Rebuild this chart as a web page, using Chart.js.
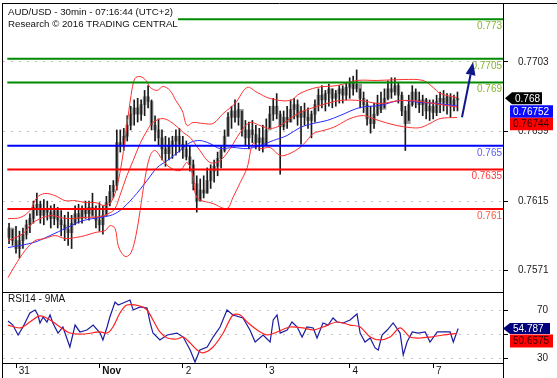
<!DOCTYPE html>
<html><head><meta charset="utf-8">
<script src="https://cdn.jsdelivr.net/npm/chart.js@4.4.1/dist/chart.umd.min.js"></script>
<style>html,body{margin:0;padding:0;background:#fff;overflow:hidden}canvas{display:block}</style>
</head><body>
<canvas id="c" width="557" height="378"></canvas>
<script>
// ---------- texts ----------
const title1 = 'AUD/USD - 30min - 07:16:44 (UTC+2)';
const title2 = 'Research \u00A9 2016 TRADING CENTRAL';
const rsiTitle = 'RSI14 - 9MA';

// ---------- time axis (hours since 31 Oct 00:00, weekend skipped) ----------
const firstHour = -2;
const dayTicks = [0, 24, 48, 72, 96, 120];
const dayLabels = ['31', 'Nov', '2', '3', '4', '7'];

// ---------- hourly bars, price x 10000 ----------
const opens = [7592,7598,7590,7585,7590,7594,7600,7604,7611,7613,7606,7610,7608,7604,7609,7603,7600,7597,7595,7601,7607,7604,7610,7607,7611,7605,7603,7600,7606,7614,7621,7625,7652,7650,7656,7663,7670,7674,7670,7676,7681,7678,7663,7660,7655,7648,7645,7650,7653,7656,7651,7648,7643,7638,7626,7615,7622,7620,7628,7634,7637,7642,7647,7656,7668,7672,7668,7673,7660,7655,7660,7657,7652,7655,7650,7660,7670,7675,7670,7662,7668,7665,7673,7676,7668,7672,7668,7666,7670,7676,7682,7679,7683,7686,7680,7683,7686,7682,7687,7690,7686,7689,7680,7676,7667,7664,7670,7677,7673,7680,7686,7684,7688,7682,7672,7664,7676,7684,7679,7676,7679,7672,7675,7671,7678,7680,7677,7681,7676,7679];
const highs = [7601,7597,7599,7596,7598,7603,7607,7615,7620,7615,7616,7615,7612,7613,7611,7609,7606,7608,7606,7612,7613,7612,7615,7615,7620,7612,7614,7612,7618,7625,7628,7660,7660,7661,7669,7675,7679,7680,7679,7685,7688,7679,7669,7667,7660,7656,7655,7656,7660,7661,7656,7653,7650,7641,7631,7629,7631,7636,7638,7641,7646,7650,7660,7671,7675,7679,7677,7672,7666,7665,7666,7663,7661,7663,7667,7675,7680,7683,7672,7672,7675,7679,7680,7679,7675,7677,7674,7672,7679,7686,7688,7685,7689,7686,7685,7688,7688,7690,7693,7694,7698,7686,7684,7679,7675,7677,7682,7684,7686,7691,7693,7693,7690,7684,7675,7682,7688,7686,7684,7682,7680,7679,7679,7682,7684,7685,7683,7683,7682,7684];
const lows = [7588,7587,7582,7579,7585,7591,7595,7601,7606,7601,7600,7603,7598,7600,7598,7593,7590,7587,7585,7600,7601,7601,7604,7603,7606,7598,7596,7594,7606,7612,7617,7622,7646,7647,7653,7660,7663,7665,7666,7669,7674,7660,7653,7650,7641,7637,7641,7642,7644,7646,7642,7641,7634,7622,7608,7615,7617,7620,7623,7627,7631,7636,7646,7656,7661,7665,7663,7656,7650,7648,7652,7648,7647,7646,7650,7661,7666,7667,7632,7660,7661,7665,7667,7663,7651,7663,7661,7655,7665,7672,7674,7672,7675,7674,7675,7677,7677,7679,7680,7682,7684,7674,7671,7663,7658,7661,7669,7671,7674,7679,7680,7682,7677,7669,7647,7666,7675,7674,7671,7669,7667,7666,7667,7669,7671,7672,7670,7668,7672,7672];
const closes = [7598,7590,7585,7590,7594,7600,7604,7611,7613,7606,7610,7608,7604,7609,7603,7600,7597,7595,7601,7607,7604,7610,7607,7611,7605,7603,7600,7606,7614,7621,7625,7652,7650,7656,7663,7670,7674,7670,7676,7681,7678,7663,7660,7655,7648,7645,7650,7653,7656,7651,7648,7643,7638,7626,7615,7622,7620,7628,7634,7637,7642,7647,7656,7668,7672,7668,7673,7660,7655,7660,7657,7652,7655,7650,7660,7670,7675,7670,7662,7668,7665,7673,7676,7668,7672,7668,7666,7670,7676,7682,7679,7683,7686,7680,7683,7686,7682,7687,7690,7686,7689,7680,7676,7667,7664,7670,7677,7673,7680,7686,7684,7688,7682,7672,7664,7676,7684,7679,7676,7679,7672,7675,7671,7678,7680,7677,7681,7676,7679,7680];

// ---------- indicators: [hour, price x 10000] ----------
const bbUpper = [[-2.3,7603.9],[1.2,7604.6],[4,7609],[6,7617.2],[8.3,7619.8],[11.2,7618.5],[14.1,7615.3],[17,7615.3],[19.9,7614.1],[22.7,7614.1],[25.6,7612.2],[27.6,7615.3],[29.1,7624.8],[30.5,7640.6],[31.9,7662.8],[33.1,7681.8],[34.2,7692.5],[35.7,7693.8],[37.4,7691.3],[38.6,7686.9],[40.6,7685],[42.3,7687.5],[44.3,7685],[46,7678.6],[47.8,7672.3],[49.2,7662.8],[50.9,7664.7],[53.8,7664.1],[56.7,7664.1],[59.6,7670.4],[63,7676.7],[66.5,7686.9],[69.4,7683.7],[73.1,7679.9],[78.8,7678.6],[81.7,7683.1],[86.6,7686.9],[92.4,7688.1],[98.1,7691.3],[103.9,7691.3],[111.4,7691.9],[117.1,7691.3],[120,7686.9],[122,7683.1],[126.9,7680.5]];
const bbMiddle = [[-2.3,7590],[2,7594.4],[4.9,7601.4],[9.8,7605.8],[14.7,7603.9],[19.3,7604.6],[24.2,7605.2],[27.1,7607.7],[28.5,7610.3],[29.9,7618.5],[31.9,7631.1],[33.7,7640.6],[35.7,7651.4],[37.7,7659.6],[39.4,7664.7],[42.3,7667.2],[45.2,7664.1],[48.1,7658.4],[50.1,7655.2],[52.9,7647],[55.8,7639.4],[58.7,7640.6],[61.6,7648.2],[64.5,7658.4],[67.3,7664.7],[70.2,7662.8],[73.1,7660.9],[76,7662.8],[78.8,7667.2],[81.7,7671],[87.5,7675.5],[93.2,7678.6],[99,7678.6],[104.7,7676.7],[110.5,7678.6],[116.3,7678],[122,7676.1],[126.9,7674.4]];
const bbLower = [[-2.3,7566.6],[-0.3,7574.2],[2.6,7583.7],[5.5,7590],[8.3,7591.3],[11.2,7593.2],[14.1,7591.3],[17,7591.9],[19.9,7593.2],[22.7,7595.1],[25.6,7596.3],[27.1,7599.5],[28.5,7597.6],[29.4,7586.8],[30.5,7581.8],[31.7,7579.9],[33.1,7582.4],[34.5,7593.2],[35.7,7609],[37.1,7629.2],[38.6,7643.8],[40,7647],[42.3,7640.6],[44.3,7636.2],[47.2,7634.3],[49.2,7639.4],[50.9,7631.1],[52.1,7617.2],[56.7,7613.4],[60.7,7610.3],[62.4,7617.2],[64.5,7626.7],[66.5,7636.2],[68.2,7651.4],[70.2,7648.2],[73.1,7648.9],[76,7643.8],[78.8,7645.1],[81.7,7648.9],[83.7,7653.3],[85.5,7657.7],[88.3,7659.6],[90.4,7660.9],[92.4,7662.8],[96.1,7667.2],[99.9,7669.1],[102.7,7667.2],[106.2,7664.7],[109.6,7662.8],[113.4,7661.5],[116.3,7661.5],[119.1,7664.1],[122,7667.2],[126.9,7667.9]];
const maLine = [[-2.3,7585.6],[4.9,7588.7],[9.8,7593.2],[14.7,7598.2],[19.3,7602.7],[27,7605.8],[29.9,7609],[33.7,7617.2],[37.7,7628],[40.6,7636.2],[43.5,7640.6],[47.2,7647],[50.1,7652],[52.9,7653.3],[55.8,7651.4],[58.7,7648.2],[62.4,7648.9],[66.5,7648.2],[70.2,7650.1],[74,7653.3],[78,7656.5],[81.7,7661.5],[85.5,7664.1],[89.5,7666],[93.2,7669.1],[99,7674.2],[104.7,7675.5],[110.5,7678.6],[116.3,7677.4],[121.2,7676.7],[126.9,7675.2]];

// ---------- RSI14 and its 9MA: [hour, value] ----------
const rsi = [[-2.3,61],[-0.9,57.6],[0.6,49.4],[2,56],[4,67.5],[5.5,70],[6.3,65.9],[6.9,59.3],[7.8,64.2],[8.9,60.1],[9.8,65.9],[10.6,59.3],[12.1,51],[13.5,56],[15.5,39.5],[17,57.6],[18.4,51.9],[20.4,53.5],[22.2,57.6],[24.2,51],[25,45.3],[26.2,56],[27,64.2],[28.5,76.6],[29.4,74.1],[30.8,75.8],[32.8,78.2],[33.7,70],[35.7,72.5],[37.7,71.6],[38.6,59.3],[39.4,51],[41.4,45.3],[43.5,49.4],[46.3,51],[48.1,47.7],[50.1,37],[51.5,27.1],[52.9,37],[55,39.5],[56.7,47.7],[58.7,56],[60.7,70],[62.4,65.9],[65.3,63.4],[67.3,53.5],[68.8,43.6],[71.1,49.4],[73.1,43.6],[74,61.8],[75.1,65.9],[76,51],[78,53.5],[79.4,60.1],[80.9,56],[82.3,47.7],[83.7,56],[85.5,55.2],[86.6,46.9],[88.3,59.3],[89.8,57.6],[91.2,63.4],[92.4,60.1],[94.1,59.3],[96.1,61.8],[98.1,66.7],[99,51],[100.4,43.6],[101.9,46.9],[103.3,38.7],[104.2,37],[105.3,49.4],[106.8,53.5],[108.5,59.3],[110.5,51],[111.4,32.9],[112.5,43.6],[114,51.9],[115.7,51],[117.7,51.9],[119.1,43.6],[121.2,51.9],[122.9,51.9],[124.9,51.9],[125.8,43.6],[127.2,54.8]];
const rsiMa = [[-2.3,57.6],[1.2,55.2],[4,60.1],[6.9,65.1],[9.8,61.8],[12.7,56],[15.5,51],[19.3,50.2],[24.2,51.9],[26.2,51],[27.9,56],[29.9,67.5],[31.9,74.1],[35.7,73.3],[37.7,70],[39.4,61.8],[41.4,51.9],[43.5,46.9],[46.3,46.1],[48.1,47.7],[50.1,42.8],[52.1,37],[53.8,34.6],[56.7,39.5],[59.6,51],[62.4,65.9],[64.5,65.9],[66.5,60.1],[69.4,53.5],[72.2,49.4],[75.1,51.9],[78.8,56],[82.6,55.2],[85.5,53.5],[88.3,56],[92.4,60.1],[96.1,57.6],[99,56],[101.9,47.7],[104.7,45.3],[107.6,47.7],[110.5,55.2],[113.4,47.7],[116.3,46.9],[119.1,47.7],[122.9,49.4],[126.9,50.7]];

// ---------- levels, ticks, last values ----------
const levels = [0.773, 0.7705, 0.769, 0.765, 0.7635, 0.761];
const levelLabels = ['0.773', '0.7705', '0.769', '0.765', '0.7635', '0.761'];
const priceTicks = [0.7571, 0.7615, 0.7659, 0.7703];
const rsiTicks = [30, 50, 70];
const lastPrice = 0.768, lastMa = 0.76752, lastBbMid = 0.76744;
const lastRsi = 54.787, lastRsiMa = 50.6575;
const arrowFrom = [128.3, 0.7668], arrowTo = [131.5, 0.7703];

// ---------- styles ----------
const FONT = '"Liberation Sans", Arial, sans-serif';
const levelColors = ['#008a00', '#008a00', '#008a00', '#0000ff', '#ff0000', '#ff0000'];
const levelTextColors = ['#86b52e', '#86b52e', '#86b52e', '#5a5aff', '#ff3c3c', '#ff5a3c'];

const P = v => v / 10000;
const toXY = arr => arr.map(p => ({x: p[0], y: P(p[1])}));
const toXYr = arr => arr.map(p => ({x: p[0], y: p[1]}));

const wickData = opens.map((o, i) => ({x: firstHour + i, y: [P(lows[i]), P(highs[i])]}));
const bodyData = opens.map((o, i) => ({x: firstHour + i, y: [P(o), P(closes[i])]}));

const X_MIN = -3.74, X_MAX = 140.1;

const datasets = [];
levels.forEach((lv, i) => {
  datasets.push({type: 'line', yAxisID: 'y', order: 0, data: [{x: firstHour - 0.5, y: lv}, {x: X_MAX, y: lv}],
    borderColor: levelColors[i], borderWidth: 2, pointRadius: 0});
});
const lineDs = (data, color, axis, w, t) => ({type: 'line', yAxisID: axis, order: 1, data, borderColor: color,
  borderWidth: w, pointRadius: 0, tension: t, fill: false});
datasets.push(lineDs(toXY(bbUpper), '#ff3030', 'y', 1, 0.35));
datasets.push(lineDs(toXY(bbMiddle), '#ff3030', 'y', 1, 0.35));
datasets.push(lineDs(toXY(bbLower), '#ff3030', 'y', 1, 0.35));
datasets.push(lineDs(toXY(maLine), '#2a2aff', 'y', 1, 0.35));
datasets.push({type: 'bar', yAxisID: 'y', order: 2, data: wickData, backgroundColor: '#1a1a1a', barThickness: 1, grouped: false});
datasets.push({type: 'bar', yAxisID: 'y', order: 3, data: bodyData, backgroundColor: '#9a9a9a', barThickness: 3, grouped: false, minBarLength: 1});
datasets.push(lineDs(toXYr(rsiMa), '#ff2020', 'y2', 1.2, 0.3));
datasets.push(lineDs(toXYr(rsi), '#1c1ca0', 'y2', 1.2, 0));

function tag(ctx, x, y, w, h, fill, text, color, arrow) {
  ctx.fillStyle = fill;
  ctx.beginPath();
  if (arrow) {
    ctx.moveTo(x - 7, y + h / 2);
    ctx.lineTo(x, y);
    ctx.lineTo(x + w, y);
    ctx.lineTo(x + w, y + h);
    ctx.lineTo(x, y + h);
  } else {
    ctx.rect(x, y, w, h);
  }
  ctx.closePath();
  ctx.fill();
  ctx.fillStyle = color;
  ctx.textAlign = 'left';
  ctx.textBaseline = 'middle';
  ctx.fillText(text, x + 3, y + h / 2 + 0.5);
}

const noPad = s => { s.paddingTop = 0; s.paddingBottom = 0; s.paddingLeft = 0; s.paddingRight = 0; };

const overlay = {
  id: 'overlay',
  afterDatasetsDraw(chart) {
    const ctx = chart.ctx, ca = chart.chartArea, xs = chart.scales.x, ys = chart.scales.y, rs = chart.scales.y2;
    ctx.save();
    ctx.font = '10px ' + FONT;
    levels.forEach((lv, i) => {
      ctx.fillStyle = levelTextColors[i];
      ctx.textAlign = 'right';
      ctx.textBaseline = 'middle';
      ctx.fillText(levelLabels[i], ca.right - 1, ys.getPixelForValue(lv) + 7);
    });
    const x1 = xs.getPixelForValue(arrowFrom[0]), y1 = ys.getPixelForValue(arrowFrom[1]);
    const x2 = xs.getPixelForValue(arrowTo[0]), y2 = ys.getPixelForValue(arrowTo[1]);
    const ang = Math.atan2(y2 - y1, x2 - x1);
    const hl = 13, hw = 5;
    const bx = x2 - hl * Math.cos(ang), by = y2 - hl * Math.sin(ang);
    ctx.strokeStyle = '#10188a'; ctx.fillStyle = '#10188a'; ctx.lineWidth = 2;
    ctx.beginPath(); ctx.moveTo(x1, y1); ctx.lineTo(bx, by); ctx.stroke();
    ctx.beginPath(); ctx.moveTo(x2, y2);
    ctx.lineTo(bx + hw * Math.sin(ang), by - hw * Math.cos(ang));
    ctx.lineTo(bx - hw * Math.sin(ang), by + hw * Math.cos(ang));
    ctx.closePath(); ctx.fill();
    ctx.fillStyle = '#fff';
    ctx.fillRect(3, 4, 175, 27);
    ctx.fillStyle = '#111';
    ctx.textAlign = 'left'; ctx.textBaseline = 'middle';
    ctx.font = '9.7px ' + FONT;
    ctx.fillText(title1, 8, 12.5);
    ctx.fillText(title2, 8, 24.5);
    ctx.font = '10px ' + FONT;
    ctx.fillText(rsiTitle, 8, rs.top + 7.5);
    ctx.restore();
  },
  afterDraw(chart) {
    const ctx = chart.ctx, ca = chart.chartArea, ys = chart.scales.y, rs = chart.scales.y2;
    ctx.save();
    ctx.strokeStyle = '#000'; ctx.lineWidth = 1;
    ctx.beginPath();
    ctx.moveTo(2.5, 3); ctx.lineTo(2.5, chart.height);
    ctx.moveTo(2, 3.5); ctx.lineTo(chart.width, 3.5);
    ctx.moveTo(2, rs.top + 0.5); ctx.lineTo(ca.right, rs.top + 0.5);
    ctx.moveTo(ca.right + 0.5, ca.bottom); ctx.lineTo(ca.right + 0.5, chart.height);
    ctx.stroke();
    ctx.font = '10px ' + FONT;
    const ax = ca.right + 8;
    const yp = ys.getPixelForValue(lastPrice);
    tag(ctx, ax + 1, yp - 6, 30, 12, '#000', lastPrice.toFixed(3), '#fff', true);
    tag(ctx, ax - 1, yp + 7, 43, 12.5, '#0a0aff', lastMa.toFixed(5), '#fff', false);
    tag(ctx, ax - 1, yp + 19.5, 43, 12.5, '#ff0000', lastBbMid.toFixed(5), '#300', false);
    const yr = rs.getPixelForValue(lastRsi);
    tag(ctx, ax - 1, yr - 5.5, 40, 11, '#00007a', lastRsi.toFixed(3), '#fff', true);
    tag(ctx, ax - 1, yr + 6, 43, 13, '#ff0000', String(lastRsiMa), '#300', false);
    ctx.restore();
  }
};

new Chart(document.getElementById('c'), {
  data: {datasets},
  options: {
    responsive: false, animation: false, events: [],
    layout: {padding: {left: 3, top: 3, right: 0, bottom: 0}},
    plugins: {legend: {display: false}, tooltip: {enabled: false}},
    scales: {
      x: {
        type: 'linear', min: X_MIN, max: X_MAX, offset: false,
        grid: {drawOnChartArea: false, tickLength: 5, tickColor: '#000', color: '#000', offset: false},
        border: {display: true, color: '#000'},
        ticks: {
          autoSkip: false, maxRotation: 0, align: 'start', padding: -3, color: '#111',
          font: c => ({size: 10, family: FONT, weight: (c.tick && c.tick.value === dayTicks[1]) ? 'bold' : 'normal'}),
          callback: v => ' ' + dayLabels[dayTicks.indexOf(v)]
        },
        afterBuildTicks: s => { s.ticks = dayTicks.map(v => ({value: v})); },
        afterFit: s => { s.height = 15; noPad(s); }
      },
      y: {
        type: 'linear', position: 'right', stack: 'panes', stackWeight: 289,
        min: 0.75575, max: 0.77403,
        grid: {color: '#c4c4c4', tickLength: 5, tickColor: '#000'},
        border: {display: true, color: '#000', dash: [2, 6]},
        ticks: {padding: 10, color: '#222', font: {size: 10, family: FONT}, callback: v => v.toFixed(4)},
        afterBuildTicks: s => { s.ticks = priceTicks.map(v => ({value: v})); },
        afterFit: s => { s.width = 54; noPad(s); }
      },
      y2: {
        type: 'linear', position: 'right', stack: 'panes', stackWeight: 71,
        min: 26.3, max: 84.85,
        grid: {color: '#c4c4c4', tickLength: 5, tickColor: '#000'},
        border: {display: true, color: '#000', dash: [2, 6]},
        ticks: {padding: 29, color: '#222', font: {size: 10, family: FONT}, callback: v => (v === 50 ? '' : String(v))},
        afterBuildTicks: s => { s.ticks = rsiTicks.map(v => ({value: v})); },
        afterFit: s => { s.width = 54; noPad(s); }
      }
    }
  },
  plugins: [overlay]
});
</script>
</body></html>
